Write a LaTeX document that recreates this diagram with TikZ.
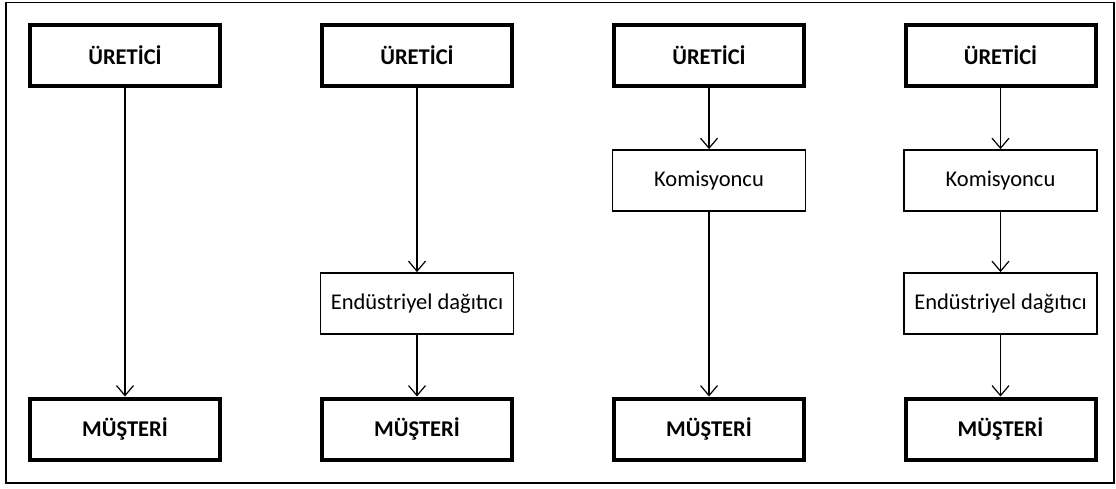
\documentclass[tikz,border=0pt]{standalone}
\usepackage{fontspec}
\setmainfont{Carlito}
\usetikzlibrary{arrows.meta}
\begin{document}
\begin{tikzpicture}[x=1pt,y=-1pt,
  mainbox/.style={draw,line width=4pt,minimum width=190pt,minimum height=61pt,
    inner sep=0pt,font=\fontsize{22.5}{27}\selectfont\bfseries},
  midbox/.style={draw,line width=1.8pt,minimum width=193pt,minimum height=61pt,
    inner sep=0pt,font=\fontsize{22.5}{27}\selectfont},
  flow/.style={line width=1.2pt,-{Straight Barb[length=10pt,width=17pt,line width=1.2pt]}}]
\useasboundingbox (0,0) rectangle (1116,489);
\draw[line width=1.8pt] (6,2.5) rectangle (1114,483);

% column 1: direct
\node[mainbox] (u1) at (125,55.5) {ÜRETİCİ};
\node[mainbox] (m1) at (125,429) {MÜŞTERİ};
\draw[flow] (u1) -- (m1);

% column 2: via industrial distributor
\node[mainbox] (u2) at (417,55.5) {ÜRETİCİ};
\node[midbox]  (e2) at (417,303.5) {Endüstriyel dağıtıcı};
\node[mainbox] (m2) at (417,429) {MÜŞTERİ};
\draw[flow] (u2) -- (e2);
\draw[flow] (e2) -- (m2);

% column 3: via agent
\node[mainbox] (u3) at (709,55.5) {ÜRETİCİ};
\node[midbox]  (k3) at (709,180.5) {Komisyoncu};
\node[mainbox] (m3) at (709,429) {MÜŞTERİ};
\draw[flow] (u3) -- (k3);
\draw[flow] (k3) -- (m3);

% column 4: via agent and industrial distributor
\node[mainbox] (u4) at (1000.5,55.5) {ÜRETİCİ};
\node[midbox]  (k4) at (1000.5,180.5) {Komisyoncu};
\node[midbox]  (e4) at (1000.5,303.5) {Endüstriyel dağıtıcı};
\node[mainbox] (m4) at (1000.5,429) {MÜŞTERİ};
\draw[flow] (u4) -- (k4);
\draw[flow] (k4) -- (e4);
\draw[flow] (e4) -- (m4);
\end{tikzpicture}
\end{document}
